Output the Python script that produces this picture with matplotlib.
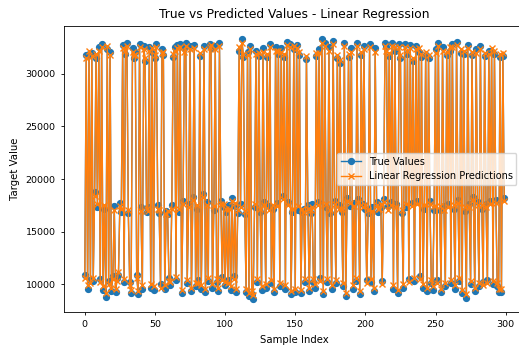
import matplotlib
matplotlib.use('Agg')
import matplotlib.pyplot as plt

true_values = [
    10900, 31800, 9600, 31900, 10400, 32000, 10300, 18800, 31500, 17300,
    32500, 10500, 32800, 9500, 17200, 8800, 32300, 10300, 32100, 9400,
    10800, 17400, 9300, 10600, 10900, 17700, 16900, 32700, 10200, 31900,
    32900, 16800, 10200, 9200, 32400, 31500, 32100, 10900, 9100, 32800,
    17300, 9600, 32600, 31200, 16900, 17300, 32500, 9700, 32100, 9500,
    31500, 32800, 17500, 16800, 10000, 32300, 31800, 9600, 17000, 16700,
    10600, 9900, 17500, 31600, 32500, 10400, 32700, 16900, 32800, 9200,
    17900, 32400, 32900, 10100, 17600, 32600, 9400, 18300, 32700, 9800,
    17200, 10400, 31700, 9600, 18600, 32600, 9300, 17800, 10300, 32800,
    32400, 9700, 17100, 32600, 10200, 9400, 32900, 17900, 10700, 17300,
    9900, 16900, 10400, 17500, 9500, 18200, 10800, 17400, 9300, 16800,
    32200, 17600, 33300, 31600, 16700, 9300, 32100, 8900, 32600, 9100,
    8600, 17300, 32200, 10200, 31700, 16900, 9500, 32400, 17800, 9700,
    31600, 17400, 32800, 10100, 17200, 9300, 32500, 17700, 31900, 9800,
    32400, 18400, 31600, 9600, 33000, 17800, 32800, 9100, 16900, 32300,
    9300, 32700, 17100, 31800, 9200, 16900, 17200, 10200, 31400, 17500,
    9400, 16800, 17600, 10200, 9700, 31700, 17800, 32300, 10600, 33300,
    9100, 32900, 17300, 10200, 32500, 16800, 9600, 33100, 17900, 10100,
    31500, 17500, 31000, 16900, 9800, 32900, 8900, 18200, 31600, 17400,
    32400, 9600, 17700, 10300, 32900, 18100, 9100, 31800, 17600, 32600,
    17200, 10400, 16800, 32800, 10200, 17300, 9400, 32400, 17800, 16900,
    17500, 17300, 10300, 18100, 32900, 32500, 17400, 31700, 17800, 32900,
    9600, 32200, 17600, 9200, 32800, 31500, 16800, 9700, 32800, 17300,
    31900, 10500, 32700, 17700, 31200, 10300, 32600, 17900, 32100, 10800,
    31600, 9700, 17200, 31800, 9400, 31500, 17900, 10100, 9500, 17100,
    32300, 10400, 32900, 17100, 9300, 32500, 17400, 9800, 31800, 17600,
    32200, 10100, 32800, 17200, 9600, 33000, 18000, 10300, 32000, 9200,
    31900, 17000, 8700, 32700, 17600, 10000, 31800, 18300, 9400, 32300,
    17800, 9800, 32600, 17200, 10200, 31700, 17600, 10400, 32200, 17900,
    32100, 10000, 31900, 18000, 9800, 9300, 31600, 9300, 31700, 18200,
]

lr_predictions = [
    10600, 31500, 9900, 32200, 10100, 31700, 10600, 18400, 31900, 17600,
    32200, 10200, 32500, 9800, 17500, 9200, 32600, 10000, 31800, 9700,
    10500, 17100, 9600, 10300, 11200, 17400, 17200, 32400, 10500, 32200,
    32600, 17100, 9900, 9500, 32100, 31800, 31800, 10600, 9400, 32500,
    17000, 9900, 32300, 31500, 17200, 17000, 32200, 10000, 32400, 9800,
    31800, 32500, 17200, 17100, 9700, 32000, 32100, 9900, 16700, 17000,
    10300, 10200, 17200, 31900, 32200, 10700, 32400, 17200, 32500, 9500,
    17600, 32100, 32600, 10400, 17300, 32300, 9700, 18000, 32400, 10100,
    17500, 10100, 32000, 9900, 18300, 32300, 9600, 17500, 10600, 32500,
    32700, 10000, 17400, 32300, 10500, 9700, 32600, 17600, 10400, 17600,
    10200, 17200, 10100, 17200, 9800, 17900, 10500, 17700, 9600, 17100,
    32500, 17300, 32900, 31900, 17000, 9600, 31800, 9200, 32300, 9400,
    9000, 17600, 31900, 10500, 32000, 17200, 9800, 32100, 17500, 10000,
    31900, 17100, 32500, 10400, 17500, 9600, 32200, 17400, 32200, 10100,
    32100, 18100, 31900, 9900, 32700, 17500, 32500, 9400, 17200, 32600,
    9600, 32400, 17400, 32100, 9500, 17200, 16900, 10500, 31700, 17200,
    9700, 17100, 17300, 10500, 10000, 32000, 17500, 32000, 10300, 32900,
    9400, 32600, 17600, 10500, 32200, 17100, 9900, 32800, 17600, 10400,
    31800, 17200, 31300, 17200, 10100, 32600, 9200, 17900, 31900, 17700,
    32100, 9900, 17400, 10600, 32600, 17800, 9400, 32100, 17300, 32300,
    17500, 10100, 17100, 32500, 10500, 17000, 9700, 32100, 17500, 17200,
    17200, 17600, 10000, 17800, 32600, 32200, 17100, 32000, 17500, 32600,
    9900, 32500, 17300, 9500, 32500, 31800, 17100, 10000, 32500, 17600,
    32200, 10200, 32400, 17400, 31500, 10600, 32300, 17600, 32400, 10500,
    31900, 10000, 17500, 32100, 9700, 31800, 17600, 10400, 9800, 17400,
    32000, 10100, 32600, 17400, 9600, 32200, 17100, 10100, 32100, 17300,
    32500, 10400, 32500, 17500, 9900, 32700, 17700, 10600, 32300, 9500,
    32200, 17300, 9100, 32400, 17300, 10300, 32100, 18000, 9700, 32000,
    17500, 10100, 32300, 17500, 9900, 32000, 17300, 10100, 31900, 17600,
    32400, 10300, 32200, 17700, 10100, 9600, 31900, 9600, 32000, 17900,
]

sample_index = list(range(len(true_values)))


def main():
    fig = plt.figure(figsize=(5.19, 3.46), dpi=100)
    # axes run past the right edge, like the cropped original
    ax = fig.add_axes([0.123, 0.098, 0.889, 0.827])

    ax.plot(sample_index, true_values, marker='o', markersize=4.2, linewidth=1.0,
            color='tab:blue', label='True Values')
    ax.plot(sample_index, lr_predictions, marker='x', markersize=4.2, linewidth=1.0,
            color='tab:orange', label='Linear Regression Predictions')

    ax.set_title('True vs Predicted Values - Linear Regression', fontsize=8.8)
    ax.set_xlabel('Sample Index', fontsize=7.3)
    ax.set_ylabel('Target Value', fontsize=7.3)
    ax.tick_params(labelsize=6.8, width=0.6, length=2.5)
    for spine in ax.spines.values():
        spine.set_linewidth(0.6)
    ax.legend(loc='center right', fontsize=7.0, borderaxespad=0.9)

    plt.savefig('out.png', dpi=100)


if __name__ == '__main__':
    main()
